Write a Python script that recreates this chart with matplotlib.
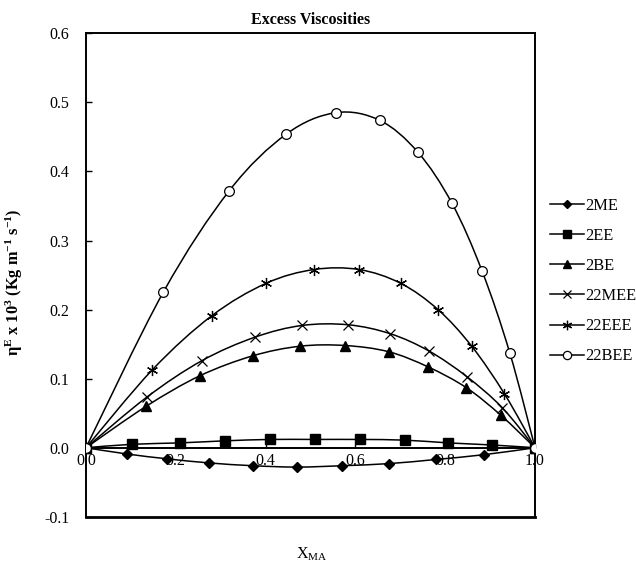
import matplotlib
matplotlib.use("Agg")
import matplotlib.pyplot as plt
import numpy as np
from matplotlib.path import Path
from matplotlib.patches import PathPatch
from matplotlib.lines import Line2D

plt.rcParams['font.family'] = ['Liberation Serif', 'DejaVu Serif']
plt.rcParams['mathtext.fontset'] = 'custom'
plt.rcParams['mathtext.rm'] = 'Liberation Serif'
plt.rcParams['mathtext.bf'] = 'Liberation Serif:bold'
plt.rcParams['mathtext.it'] = 'Liberation Serif:italic'

# ---- data ----
x_2ME = [0.0, 0.091, 0.180, 0.275, 0.371, 0.470, 0.571, 0.674, 0.779, 0.887, 1.0]
y_2ME = [0.0, -0.009, -0.016, -0.022, -0.026, -0.028, -0.026, -0.023, -0.017, -0.010, 0.0]

x_2EE = [0.0, 0.103, 0.209, 0.309, 0.410, 0.510, 0.610, 0.710, 0.807, 0.904, 1.0]
y_2EE = [0.0, 0.005, 0.007, 0.010, 0.012, 0.012, 0.012, 0.011, 0.007, 0.004, 0.0]

x_2BE = [0.0, 0.134, 0.253, 0.371, 0.477, 0.577, 0.674, 0.762, 0.847, 0.924, 1.0]
y_2BE = [0.0, 0.060, 0.104, 0.133, 0.147, 0.148, 0.139, 0.117, 0.087, 0.047, 0.0]

x_22MEE = [0.0, 0.135, 0.258, 0.376, 0.481, 0.584, 0.678, 0.764, 0.848, 0.927, 1.0]
y_22MEE = [0.0, 0.073, 0.126, 0.160, 0.177, 0.178, 0.165, 0.140, 0.103, 0.058, 0.0]

x_22EEE = [0.0, 0.148, 0.280, 0.401, 0.508, 0.608, 0.701, 0.784, 0.859, 0.932, 1.0]
y_22EEE = [0.0, 0.113, 0.191, 0.238, 0.258, 0.258, 0.238, 0.200, 0.147, 0.078, 0.0]

x_22BEE = [0.0, 0.172, 0.319, 0.446, 0.556, 0.654, 0.739, 0.815, 0.882, 0.944, 1.0]
y_22BEE = [0.0, 0.225, 0.372, 0.454, 0.485, 0.474, 0.428, 0.354, 0.256, 0.137, 0.0]

series_names = ['2ME', '2EE', '2BE', '22MEE', '22EEE', '22BEE']
xticks = [0.0, 0.2, 0.4, 0.6, 0.8, 1.0]
yticks = [-0.1, 0.0, 0.1, 0.2, 0.3, 0.4, 0.5, 0.6]

series = [
    (x_2ME, y_2ME, dict(marker='D', ms=5, mfc='black', mec='black')),
    (x_2EE, y_2EE, dict(marker='s', ms=7, mfc='black', mec='black')),
    (x_2BE, y_2BE, dict(marker='^', ms=7, mfc='black', mec='black')),
    (x_22MEE, y_22MEE, dict(marker='x', ms=7, mew=0.9, mfc='black', mec='black')),
    (x_22EEE, y_22EEE, dict(marker=(6, 2, 0), ms=8, mew=0.9, mfc='black', mec='black')),
    (x_22BEE, y_22BEE, dict(marker='o', ms=7, mfc='white', mec='black', mew=0.9)),
]


def smooth_path(xs, ys):
    pts = np.column_stack([xs, ys]).astype(float)
    n = len(pts)
    verts = [pts[0]]
    codes = [Path.MOVETO]
    for i in range(n - 1):
        p0 = pts[i - 1] if i > 0 else pts[i]
        p1 = pts[i]
        p2 = pts[i + 1]
        p3 = pts[i + 2] if i + 2 < n else pts[i + 1]
        c1 = p1 + (p2 - p0) / 6.0
        c2 = p2 - (p3 - p1) / 6.0
        verts += [c1, c2, p2]
        codes += [Path.CURVE4] * 3
    return Path(verts, codes)


fig = plt.figure(figsize=(6.36, 5.67), dpi=100)
ax = fig.add_axes([0.1352, 0.0885, 0.706, 0.8528])

handles = []
for (xs, ys, mk), name in zip(series, series_names):
    patch = PathPatch(smooth_path(xs, ys), fill=False, edgecolor='black', lw=1.1, zorder=2)
    ax.add_patch(patch)
    ax.plot(xs, ys, linestyle='none', zorder=3, **mk)
    lmk = dict(mk)
    lmk['ms'] = mk['ms'] * 0.85
    handles.append(Line2D([], [], color='black', lw=1.1, **lmk))

ax.set_xlim(0, 1)
ax.set_ylim(-0.1, 0.6)
ax.set_xticks(xticks)
ax.set_xticklabels([f'{v:.1f}' for v in xticks])
ax.set_yticks(yticks)
ax.set_yticklabels([f'{v:.1f}' for v in yticks])

ax.spines['bottom'].set_position(('data', 0))
for s in ['top', 'left', 'right', 'bottom']:
    ax.spines[s].set_linewidth(1.4)
# bottom frame edge of the box
ax.plot([0, 1], [0, 0], transform=ax.transAxes, color='black', lw=2.0, clip_on=False, zorder=4)

ax.tick_params(axis='x', direction='in', length=3, width=1, labelsize=11.5, pad=4)
ax.tick_params(axis='y', direction='in', length=4, width=1, labelsize=11.5, pad=12)

ax.text(0.5, 1.019, 'Excess Viscosities', transform=ax.transAxes, ha='center', va='baseline',
        fontsize=11.5, fontweight='bold')

ax.set_ylabel(r'η$^{\mathbf{E}}$ x 10$^{\mathbf{3}}$ (Kg m$^{\mathbf{-1}}$ s$^{\mathbf{-1}}$)',
              fontsize=11.8, fontweight='bold')
ax.yaxis.set_label_coords(-0.135, 0.486)
ax.set_xlabel(r'X$_{\mathrm{MA}}$', fontsize=11.5)
ax.xaxis.set_label_coords(0.503, -0.06)

fig.legend(handles, series_names, loc='upper left', bbox_to_anchor=(0.865, 0.651),
           frameon=False, fontsize=11.8, handlelength=2.05, handletextpad=0.12,
           labelspacing=0.86, borderpad=0, borderaxespad=0)

fig.savefig('out.png', dpi=100)
